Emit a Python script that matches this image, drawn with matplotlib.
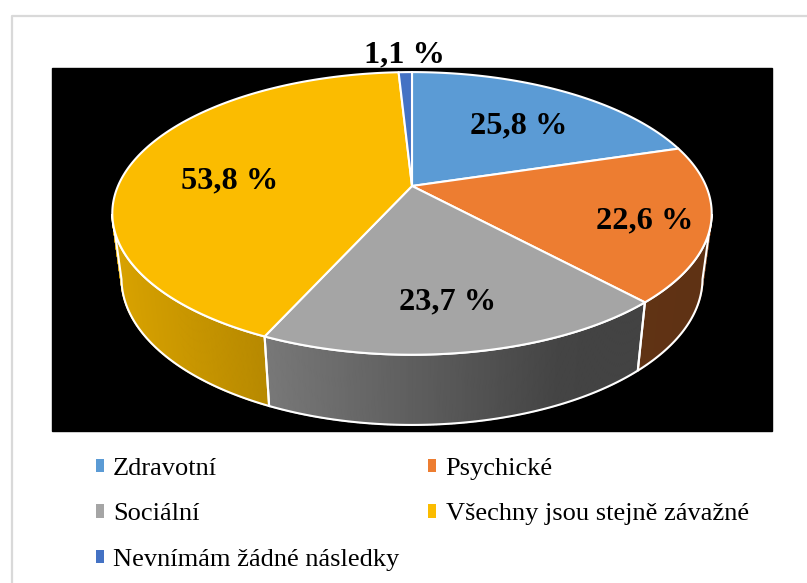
import numpy as np
import matplotlib
matplotlib.use('Agg')
from matplotlib import pyplot as plt
from matplotlib.patches import Polygon, Rectangle, Patch

categories = ['Zdravotní', 'Psychické', 'Sociální', 'Všechny jsou stejně závažné', 'Nevnímám žádné následky']
values = [25.8, 22.6, 23.7, 53.8, 1.1]
labels = ['25,8 %', '22,6 %', '23,7 %', '53,8 %', '1,1 %']
colors = ['#5B9BD5', '#ED7D31', '#A5A5A5', '#FBBC00', '#4472C4']

# where the percent labels sit, in pixels
label_x = [519, 645, 448, 230, 404]
label_y = [126, 221, 302, 181, 55]

# perspective of the tilted pie
cx = 412
persp = 0.194
top_shape = (186, 136, 294)
bot_shape = (250, 141, 285)
shade_x = [120, 265, 560, 720]
shade_f = [0.86, 0.73, 0.41, 0.40]

plt.rcParams['font.family'] = ['Liberation Serif', 'DejaVu Serif']


def project(theta, shape):
    # theta in degrees clockwise from the top of the pie
    cy, a, b = shape
    t = np.radians(theta)
    u, v = np.sin(t), -np.cos(t)
    d = 1 - persp * v
    return cx + b * u / d, cy + a * v / d


def arc(t0, t1, shape):
    n = max(int(abs(t1 - t0)) * 2, 2)
    return project(np.linspace(t0, t1, n), shape)


def shade(color, x):
    rgb = np.array(matplotlib.colors.to_rgb(color))
    return tuple(rgb * np.interp(x, shade_x, shade_f))


fig = plt.figure(figsize=(8.07, 5.83), dpi=100)
ax = fig.add_axes([0, 0, 1, 1])
ax.set_xlim(0, 807)
ax.set_ylim(583, 0)
ax.axis('off')

# frame of the chart, only top and left are in the crop
ax.plot([12, 12, 807], [583, 16, 16], color='#d9d9d9', lw=1.6, zorder=1)
ax.add_patch(Rectangle((52, 68), 720, 363, color='black', zorder=1))

edges = np.cumsum([0] + values) / sum(values) * 360
wall_min, wall_max = 101.5, 258.5

# side walls first
for i, c in enumerate(colors):
    t0, t1 = max(edges[i], wall_min), min(edges[i + 1], wall_max)
    if t1 <= t0:
        continue
    ts = np.linspace(t0, t1, int(t1 - t0) * 2 + 2)
    for a, b in zip(ts[:-1], ts[1:]):
        xt, yt = project(np.array([a, b]), top_shape)
        xb, yb = project(np.array([b, a]), bot_shape)
        col = shade(c, (xt.mean() + xb.mean()) / 2)
        ax.add_patch(Polygon(np.c_[np.r_[xt, xb], np.r_[yt, yb]], fc=col, ec=col, lw=1.2, zorder=2))
    xt, yt = arc(t0, t1, top_shape)
    xb, yb = arc(t1, t0, bot_shape)
    ax.add_patch(Polygon(np.c_[np.r_[xt, xb], np.r_[yt, yb]], fc='none', ec='white', lw=1.5, zorder=3))

# top faces
for i, c in enumerate(colors):
    x, y = arc(edges[i], edges[i + 1], top_shape)
    ax.add_patch(Polygon(np.c_[np.r_[cx, x], np.r_[top_shape[0], y]], fc=c, ec='white', lw=1.5,
                         joinstyle='round', zorder=4))

for lx, ly, s in zip(label_x, label_y, labels):
    ax.text(lx, ly, s, fontsize=23.3, fontweight='bold', ha='center', va='center', color='black', zorder=5)

# legend fills columns first, so reorder to get the rows of the original
order = [0, 2, 4, 1, 3]
handles = [Patch(fc=colors[i], ec='none', label=categories[i]) for i in order]
ax.legend(handles=handles, ncol=2, loc='upper left', bbox_to_anchor=(96, 458), bbox_transform=ax.transData,
          frameon=False, fontsize=19, handlelength=0.3, handleheight=0.42, handletextpad=0.35,
          labelspacing=0.89, columnspacing=1.1, borderaxespad=0, borderpad=0, labelcolor='black')

fig.savefig('out.png', dpi=100, facecolor='white')
